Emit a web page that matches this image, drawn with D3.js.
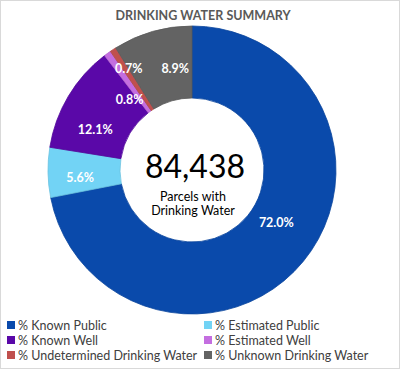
<!DOCTYPE html>
<html><head><meta charset="utf-8">
<script src="https://cdn.jsdelivr.net/npm/d3@7"></script>
<style>html,body{margin:0;padding:0;background:#fff;}svg{display:block;}</style>
</head><body>
<svg id="chart" width="400" height="369"></svg>
<script>
const categories = ["% Known Public","% Estimated Public","% Known Well","% Estimated Well","% Undetermined Drinking Water","% Unknown Drinking Water"];
const values = [72.0, 5.6, 12.1, 0.8, 0.7, 8.9];
const colors = ["#0a4aab","#72d3f5","#5a08a8","#c46ee0","#c0504d","#636363"];
const title = "DRINKING WATER SUMMARY";
const centerValue = "84,438";
const centerLines = ["Parcels with","Drinking Water"];
// layout nudges for data labels (px), matching reference placement
const labelNudge = [[1,-16],[-4,6],[-4,15],[1,17],[-4,-11],[13,2]];

const W = 400, H = 369, cx = 192, cy = 170, rOuter = 144, rInner = 72;
const font = "Lato, 'Open Sans', sans-serif";
const svg = d3.select("#chart");
svg.append("rect").attr("x",0.5).attr("y",0.5).attr("width",W-1).attr("height",H-1)
  .attr("fill","#fff").attr("stroke","#d9d9d9");

svg.append("text").attr("x",203).attr("y",19.5).attr("text-anchor","middle")
  .attr("font-family",font).attr("font-weight","bold").attr("font-size",12.5)
  .attr("fill","#595959").text(title);

const pie = d3.pie().sort(null).value(d=>d)(values);
const arc = d3.arc().innerRadius(rInner).outerRadius(rOuter);
const g = svg.append("g").attr("transform",`translate(${cx},${cy})`);
g.selectAll("path").data(pie).join("path")
  .attr("d",arc).attr("fill",(d,i)=>colors[i])
  .attr("stroke",(d,i)=>d3.color(colors[i]).darker(0.25)).attr("stroke-width",0.8);

g.selectAll("text.lbl").data(pie).join("text").attr("class","lbl")
  .attr("x",(d,i)=>arc.centroid(d)[0]+labelNudge[i][0])
  .attr("y",(d,i)=>arc.centroid(d)[1]+labelNudge[i][1])
  .attr("text-anchor","middle").attr("dominant-baseline","central")
  .attr("font-family",font).attr("font-weight","bold").attr("font-size",12.5)
  .attr("fill","#fff").text(d=>d3.format(".1f")(d.data)+"%");

svg.append("text").attr("x",195).attr("y",178).attr("text-anchor","middle")
  .attr("font-family",font).attr("font-size",32).attr("fill","#000").text(centerValue);
centerLines.forEach((t,i)=>{
  svg.append("text").attr("x",193).attr("y",201+i*14).attr("text-anchor","middle")
    .attr("font-family",font).attr("font-size",12.5).attr("fill","#000").text(t);
});

const legX = [7,204], legY = [325,340,355];
const leg = svg.append("g");
categories.forEach((c,i)=>{
  const col = i%2, row = Math.floor(i/2);
  leg.append("rect").attr("x",legX[col]).attr("y",legY[row]-4).attr("width",8).attr("height",8).attr("fill",colors[i]);
  leg.append("text").attr("x",legX[col]+11).attr("y",legY[row]).attr("dominant-baseline","central")
    .attr("font-family",font).attr("font-size",12.5).attr("fill","#404040").text(c);
});
</script>
</body></html>
